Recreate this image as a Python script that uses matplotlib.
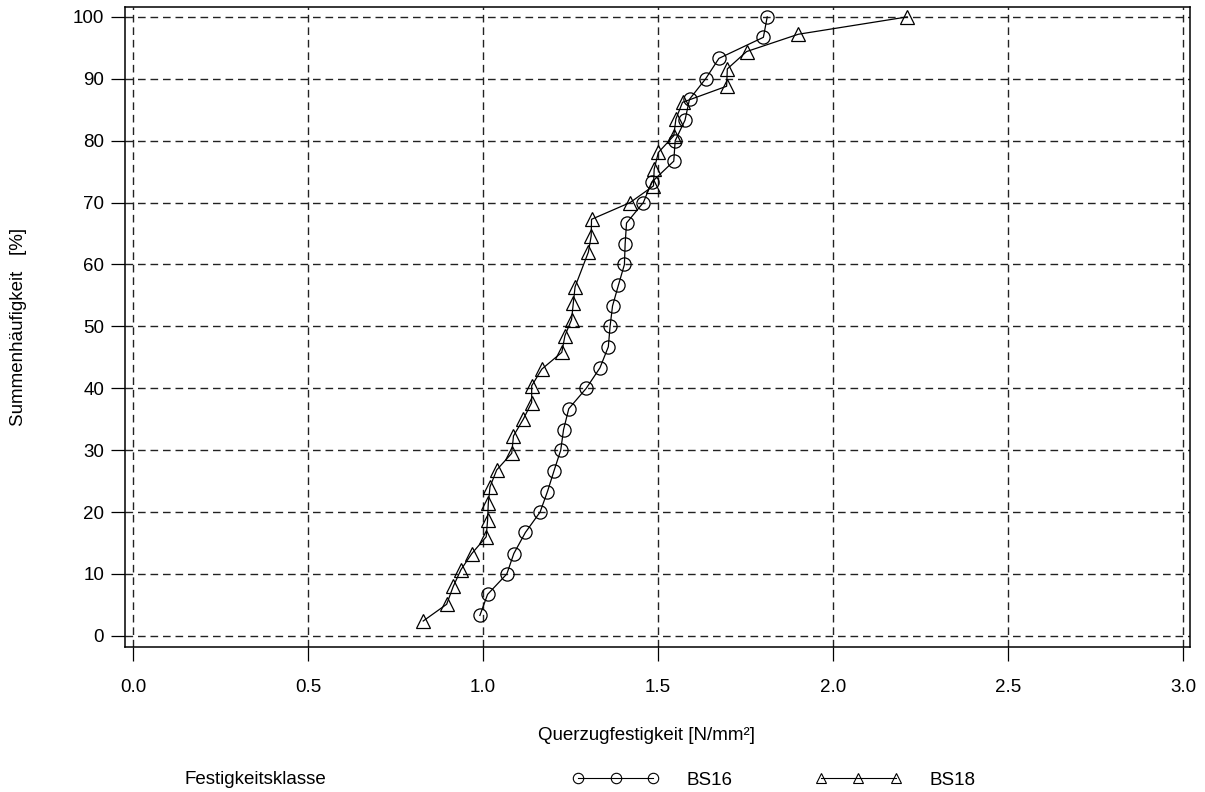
import matplotlib
matplotlib.use("Agg")
import matplotlib.pyplot as plt
from matplotlib.lines import Line2D

plt.rcParams['font.family'] = ['Liberation Sans', 'DejaVu Sans']

# Data
bs16_x = [0.991, 1.013, 1.068, 1.088, 1.121, 1.163, 1.184, 1.203, 1.222, 1.230,
          1.245, 1.295, 1.334, 1.358, 1.363, 1.370, 1.387, 1.404, 1.406, 1.410,
          1.458, 1.482, 1.545, 1.549, 1.577, 1.590, 1.636, 1.674, 1.801, 1.812]
bs16_y = [3.3, 6.7, 10.0, 13.3, 16.7, 20.0, 23.3, 26.7, 30.0, 33.3,
          36.7, 40.0, 43.3, 46.7, 50.0, 53.3, 56.7, 60.0, 63.3, 66.7,
          70.0, 73.3, 76.7, 80.0, 83.3, 86.7, 90.0, 93.3, 96.7, 100.0]

bs18_x = [0.829, 0.896, 0.915, 0.937, 0.968, 1.009, 1.013, 1.015, 1.020, 1.039,
          1.082, 1.087, 1.115, 1.139, 1.139, 1.168, 1.225, 1.234, 1.253, 1.258,
          1.263, 1.301, 1.309, 1.310, 1.420, 1.487, 1.489, 1.501, 1.545, 1.551,
          1.570, 1.696, 1.698, 1.753, 1.901, 2.212]
bs18_y = [2.4, 5.1, 8.0, 10.7, 13.3, 16.0, 18.7, 21.4, 24.1, 26.8,
          29.5, 32.3, 35.0, 37.7, 40.4, 43.1, 45.8, 48.5, 51.1, 53.8,
          56.4, 62.0, 64.6, 67.3, 70.0, 72.7, 75.4, 78.1, 80.8, 83.5,
          86.2, 88.8, 91.6, 94.4, 97.2, 100.0]

x_ticks = [0.0, 0.5, 1.0, 1.5, 2.0, 2.5, 3.0]
x_tick_labels = ["0.0", "0.5", "1.0", "1.5", "2.0", "2.5", "3.0"]
y_ticks = [0, 10, 20, 30, 40, 50, 60, 70, 80, 90, 100]

FS = 13.5

W, H = 1205, 792
fig = plt.figure(figsize=(W / 100, H / 100), dpi=100)
left, right, top, bottom = 125, 1190, 7, 647
ax = fig.add_axes([left / W, 1 - bottom / H, (right - left) / W, (bottom - top) / H])

ax.set_xlim(-0.023, 3.02)
ax.set_ylim(-1.8, 101.6)

grid_style = dict(color='#222222', linewidth=1.0, linestyle=(0, (5.5, 3.5)), zorder=1)
for xv in x_ticks:
    ax.axvline(xv, **grid_style)
for yv in y_ticks:
    ax.axhline(yv, **grid_style)

ax.plot(bs16_x, bs16_y, color='black', linewidth=0.9, marker='o', markersize=9.5,
        markerfacecolor='none', markeredgecolor='black', markeredgewidth=0.9, zorder=3)
ax.plot(bs18_x, bs18_y, color='black', linewidth=0.9, marker='^', markersize=9.5,
        markerfacecolor='none', markeredgecolor='black', markeredgewidth=0.9, zorder=3)

ax.set_xticks(x_ticks)
ax.set_xticklabels(x_tick_labels)
ax.set_yticks(y_ticks)
ax.tick_params(axis='both', direction='out', length=10, width=0.9, labelsize=FS,
               colors='black')
ax.tick_params(axis='x', pad=13)
ax.tick_params(axis='y', pad=5)
for s in ax.spines.values():
    s.set_linewidth(1.1)
    s.set_color('black')

fig.text(646 / W, 1 - 735 / H, "Querzugfestigkeit [N/mm²]", ha='center', va='center',
         fontsize=FS)
fig.text(19 / W, 1 - 327 / H, "Summenhäufigkeit   [%]", ha='center', va='center',
         rotation=90, fontsize=FS)
fig.text(185 / W, 1 - 780 / H, "Festigkeitsklasse", ha='left', va='center',
         fontsize=FS)

h16 = Line2D([], [], color='black', linewidth=0.8, marker='o', markersize=7.5,
             markerfacecolor='none', markeredgewidth=0.8)
h18 = Line2D([], [], color='black', linewidth=0.8, marker='^', markersize=7.5,
             markerfacecolor='none', markeredgewidth=0.8)
fig.legend([h16, h18], ["BS16", "BS18"], loc='center',
           bbox_to_anchor=(774 / W, 1 - 780 / H), ncol=2, frameon=False,
           numpoints=3, handlelength=4.6, handletextpad=1.5, columnspacing=4.4,
           fontsize=FS)

fig.savefig("out.png", dpi=100)
